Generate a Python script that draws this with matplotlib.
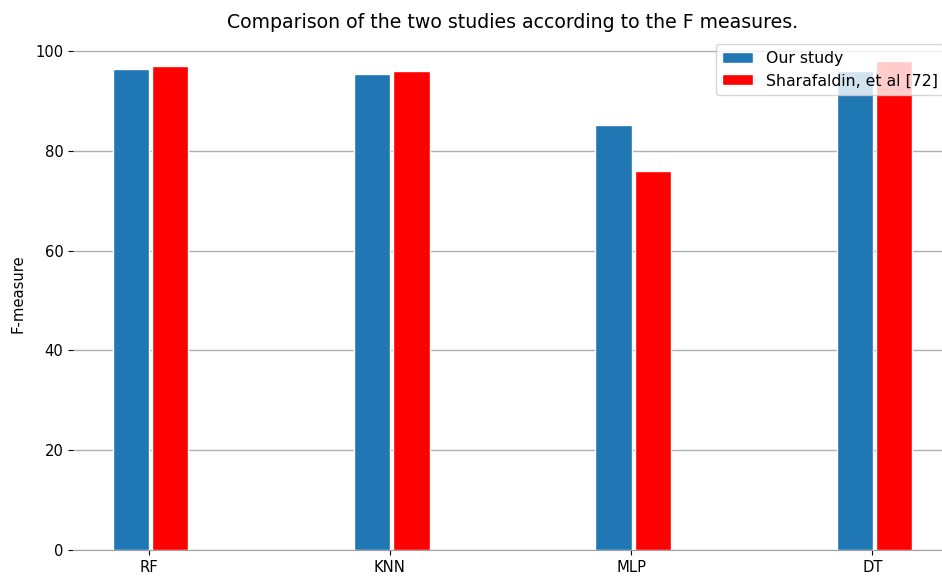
import numpy as np
import matplotlib
matplotlib.use("Agg")
import matplotlib.pyplot as plt

models = ["RF", "KNN", "MLP", "DT"]
our_study = [96.4, 95.4, 85.2, 96.0]
sharafaldin = [97.0, 96.0, 76.0, 98.0]

plt.rcParams["font.size"] = 10.6

fig = plt.figure(figsize=(9.42, 5.77), dpi=100)
ax = fig.add_axes([73 / 942, 27 / 577, 879 / 942, (550 - 36.5) / 577])

x = np.arange(len(models))
width = 0.15
ax.bar(x - 0.073, our_study, width, color="#1f77b4", edgecolor="white",
       label="Our study", zorder=3)
ax.bar(x + 0.089, sharafaldin, width, color="red", edgecolor="white",
       label="Sharafaldin, et al [72]", zorder=3)

ax.set_xticks(x)
ax.set_xticklabels(models)
ax.set_ylabel("F-measure", labelpad=7)
ax.set_title("Comparison of the two studies according to the F measures.",
             fontsize=13.6, pad=6)
ax.set_yticks([0, 20, 40, 60, 80, 100])

for side in ["top", "right", "left"]:
    ax.spines[side].set_visible(False)
ax.spines["bottom"].set_color("#a0a0a0")
ax.yaxis.grid(True, color="#b0b0b0", linewidth=1, zorder=0)
ax.set_axisbelow(True)
ax.legend(loc="upper right", fontsize=11.3)

fig.savefig("out.png", dpi=100)
